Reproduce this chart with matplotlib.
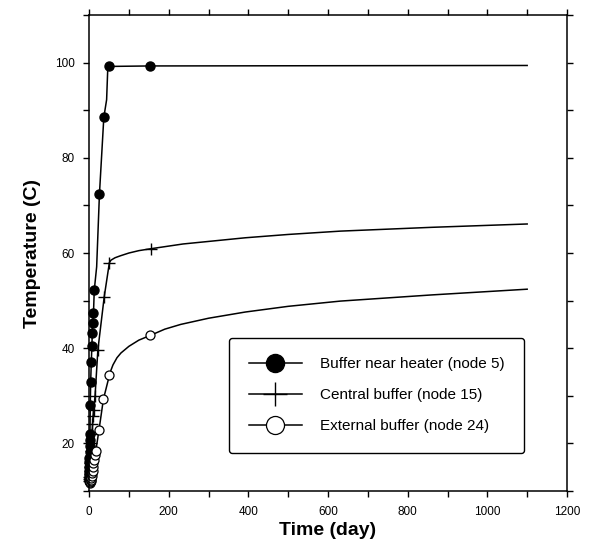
"""Temperature evolution at three buffer nodes."""
import matplotlib
matplotlib.use("Agg")
import matplotlib.pyplot as plt
from matplotlib.lines import Line2D
from matplotlib.ticker import MultipleLocator

plt.rcParams["font.family"] = ["Liberation Sans", "DejaVu Sans"]

# buffer near heater (node 5): marked output times
heater_days = [0.1, 0.2, 0.3, 0.4, 0.5, 0.6, 0.8, 1.0, 1.2, 1.5, 1.8, 2.2,
               3, 4, 5.5, 7, 8, 9, 11, 13, 26, 37, 51, 154]
heater_temp = [12.0, 12.5, 13.0, 13.6, 14.3, 15.0, 16.0, 17.0, 18.2, 19.5,
               20.8, 22.0, 28.1, 33.0, 37.0, 40.4, 43.1, 45.3, 47.3, 52.2,
               72.4, 88.5, 99.2, 99.3]
# curve as traced
heater_line_days = [0, 0.5, 1.0, 2.2, 3, 4, 5.5, 7, 8, 9, 11, 13, 19, 26, 37,
                    44, 47, 51, 154, 1100]
heater_line_temp = [11.5, 14.3, 17.0, 22.0, 28.1, 33.0, 37.0, 40.4, 43.1,
                    45.3, 47.3, 52.2, 57.1, 72.4, 88.5, 92.2, 99.0, 99.2,
                    99.3, 99.4]

# central buffer (node 15)
central_days = [0.3, 0.6, 1.0, 1.5, 2, 2.5, 3, 4, 5, 6, 7, 8, 10, 12, 15,
                22, 38, 51, 155]
central_temp = [12.0, 12.5, 13.0, 13.6, 14.3, 15.0, 15.8, 17.0, 18.5, 20.0,
                22.0, 24.0, 25.8, 27.0, 30.0, 39.6, 50.8, 58.0, 60.9]
central_line_days = [0, 1.0, 3, 6, 10, 15, 22, 38, 51, 55, 65, 78, 100, 125,
                     155, 236, 392, 500, 631, 861, 1100]
central_line_temp = [11.5, 13.0, 15.8, 20.0, 25.8, 30.0, 39.6, 50.8, 58.0,
                     58.5, 59.0, 59.4, 60.0, 60.5, 60.9, 61.9, 63.2, 63.9,
                     64.6, 65.4, 66.1]

# external buffer (node 24)
external_days = [2, 3, 4, 5, 6, 7, 8, 9, 10, 11, 12, 14, 17, 25, 36, 51, 154]
external_temp = [11.7, 11.9, 12.1, 12.4, 12.8, 13.2, 13.7, 14.3, 15.0, 15.8,
                 16.6, 17.5, 18.5, 22.9, 29.3, 34.3, 42.7]
external_line_days = [0, 2, 6, 10, 14, 17, 25, 36, 51, 55, 60, 70, 80, 100,
                      125, 154, 190, 230, 300, 392, 500, 631, 861, 1100]
external_line_temp = [11.5, 11.7, 12.8, 15.0, 17.5, 18.5, 22.9, 29.3, 34.3,
                      35.4, 36.5, 38.0, 39.0, 40.4, 41.7, 42.7, 44.0, 45.0,
                      46.3, 47.6, 48.8, 49.9, 51.2, 52.4]

labels = ["Buffer near heater (node 5)", "Central buffer (node 15)",
          "External buffer (node 24)"]

fig = plt.figure(figsize=(5.9, 5.46), dpi=100)
ax = fig.add_axes([0.151, 0.1007, 0.81, 0.8718])

lw = 1.1
ax.plot(heater_line_days, heater_line_temp, color="black", linewidth=lw)
ax.plot(central_line_days, central_line_temp, color="black", linewidth=lw)
ax.plot(external_line_days, external_line_temp, color="black", linewidth=lw)
ax.plot(heater_days, heater_temp, "o", color="black", markersize=6.5,
        linestyle="none", clip_on=False)
ax.plot(central_days, central_temp, "+", color="black", markersize=9,
        markeredgewidth=1.0, linestyle="none", clip_on=False)
ax.plot(external_days, external_temp, "o", markerfacecolor="white",
        markeredgecolor="black", markeredgewidth=0.9, markersize=6.5,
        linestyle="none", clip_on=False)

ax.set_xlim(0, 1200)
ax.set_ylim(10, 110)
ax.xaxis.set_major_locator(MultipleLocator(200))
ax.xaxis.set_minor_locator(MultipleLocator(100))
ax.yaxis.set_major_locator(MultipleLocator(20))
ax.yaxis.set_minor_locator(MultipleLocator(10))
ax.set_yticks([20, 40, 60, 80, 100])
ax.tick_params(which="both", direction="out", length=4.5, width=1.0,
               top=True, right=True, labelsize=8.5, pad=6)
for spine in ax.spines.values():
    spine.set_linewidth(1.1)

ax.set_xlabel("Time (day)", fontsize=14, fontweight="bold", labelpad=3)
ax.set_ylabel("Temperature (C)", fontsize=14, fontweight="bold", labelpad=10)

handles = [
    Line2D([], [], color="black", linewidth=lw, marker="o", markersize=13),
    Line2D([], [], color="black", linewidth=lw, marker="+", markersize=17,
           markeredgewidth=1.0),
    Line2D([], [], color="black", linewidth=lw, marker="o", markersize=13,
           markerfacecolor="white", markeredgewidth=0.9),
]
leg = ax.legend(handles, labels, loc="lower left",
                bbox_to_anchor=(0.293, 0.08), fontsize=11, frameon=True,
                fancybox=True, edgecolor="black", framealpha=1,
                handlelength=3.46, handletextpad=1.18, labelspacing=1.1,
                borderpad=1.3, borderaxespad=0)
leg.get_frame().set_linewidth(1.0)

fig.savefig("out.png", dpi=100, facecolor="white")
